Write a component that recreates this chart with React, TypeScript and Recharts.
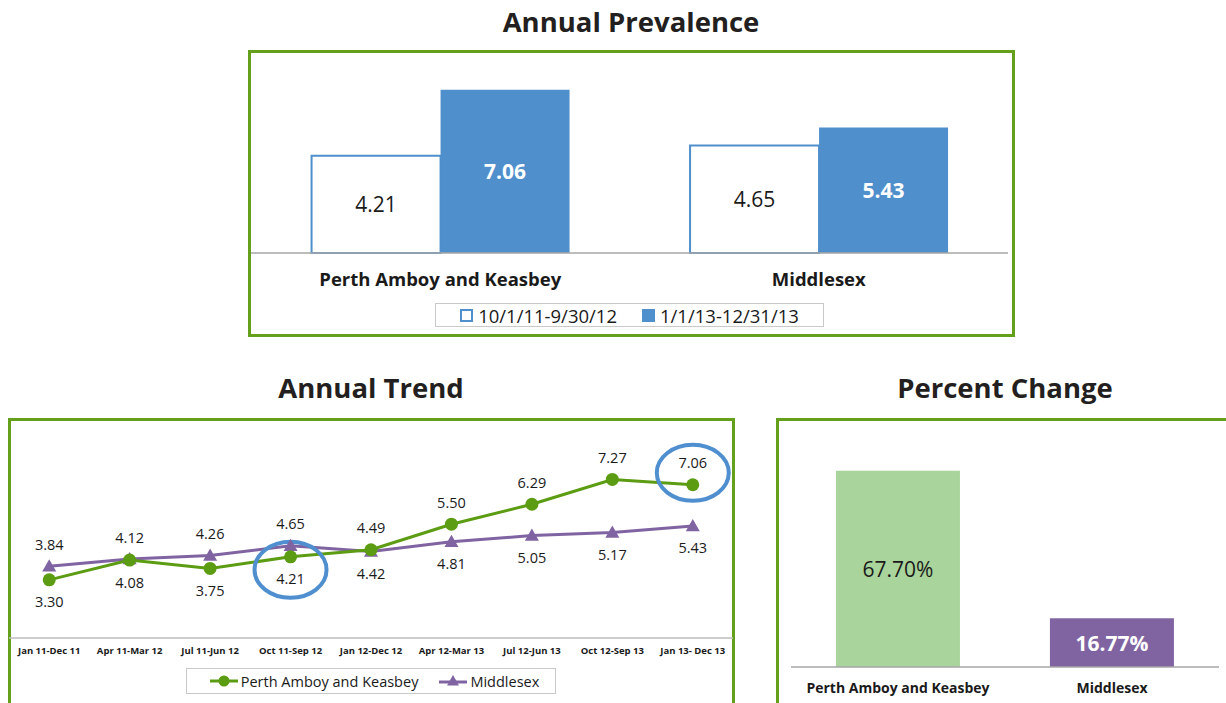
import React from 'react';
import { BarChart, Bar, LineChart, Line, XAxis, YAxis, LabelList, Legend, Cell, ReferenceDot } from 'recharts';

const FONT = '"Open Sans", "Liberation Sans", sans-serif';
const BORDER_GREEN = '#64a01c';
const BLUE = '#4f8fcc';
const GREEN = '#5c9c12';
const PURPLE = '#8064a2';
const LIGHT_GREEN = '#a9d49b';
const TEXT = '#1a1a1a';

// --- data ---
const regions = ['Perth Amboy and Keasbey', 'Middlesex'];
const prevalencePeriods = ['10/1/11-9/30/12', '1/1/13-12/31/13'];
const prevalenceEarly = [4.21, 4.65];
const prevalenceLate = [7.06, 5.43];

const trendPeriods = [
  'Jan 11-Dec 11', 'Apr 11-Mar 12', 'Jul 11-Jun 12', 'Oct 11-Sep 12', 'Jan 12-Dec 12',
  'Apr 12-Mar 13', 'Jul 12-Jun 13', 'Oct 12-Sep 13', 'Jan 13- Dec 13',
];
const trendPerth = [3.3, 4.08, 3.75, 4.21, 4.49, 5.5, 6.29, 7.27, 7.06];
const trendMiddlesex = [3.84, 4.12, 4.26, 4.65, 4.42, 4.81, 5.05, 5.17, 5.43];
const circledPeriods = ['Oct 11-Sep 12', 'Jan 13- Dec 13'];

const percentChange = [67.7, 16.77];

// tables for recharts
const prevalenceData = regions.map((region, i) => ({ region, early: prevalenceEarly[i], late: prevalenceLate[i] }));
const trendData = trendPeriods.map((period, i) => ({ period, perth: trendPerth[i], middlesex: trendMiddlesex[i] }));
const changeData = regions.map((region, i) => ({ region, change: percentChange[i] }));

// perth label goes above when its line is the higher one, middlesex label takes the other side
const perthOnTop = (i: number) => trendPerth[i] >= trendMiddlesex[i];

const Title = ({ text, cx, cy }: { text: string; cx: number; cy: number }) => (
  <div
    style={{
      position: 'absolute', left: cx - 200, top: cy - 20, width: 400, height: 40, lineHeight: '40px',
      textAlign: 'center', fontWeight: 700, fontSize: 27.5, color: '#231f20', fontFamily: FONT,
    }}
  >
    {text}
  </div>
);

const Frame = ({ left, top, width, height }: { left: number; top: number; width: number; height: number }) => (
  <div
    style={{
      position: 'absolute', left, top, width, height, boxSizing: 'border-box',
      border: `3px solid ${BORDER_GREEN}`,
    }}
  />
);

const prevalenceLegend = () => (
  <div style={{ display: 'flex', justifyContent: 'center' }}>
    <div
      style={{
        display: 'flex', alignItems: 'center', height: 24, boxSizing: 'border-box', border: '1px solid #c9c9c9',
        padding: '0 24px 0 24px', gap: 25, fontSize: 18.5, fontFamily: FONT, color: TEXT,
      }}
    >
      {prevalencePeriods.map((p, i) => (
        <span key={p} style={{ display: 'flex', alignItems: 'center', gap: 5 }}>
          <svg width={13} height={13}>
            <rect x={1} y={1} width={11} height={11} fill={i === 0 ? '#fff' : BLUE} stroke={BLUE} strokeWidth={2} />
          </svg>
          {p}
        </span>
      ))}
    </div>
  </div>
);

const Triangle = ({ cx, cy, size = 7 }: { cx: number; cy: number; size?: number }) => (
  <polygon
    points={`${cx},${cy - size} ${cx - size},${cy + size * 0.75} ${cx + size},${cy + size * 0.75}`}
    fill={PURPLE}
  />
);

const trendLegend = () => (
  <div style={{ display: 'flex', justifyContent: 'center' }}>
    <div
      style={{
        display: 'flex', alignItems: 'center', height: 26, boxSizing: 'border-box', border: '1px solid #c9c9c9',
        padding: '0 16px 0 22px', gap: 20, fontSize: 14.5, fontFamily: FONT, color: TEXT,
      }}
    >
      <span style={{ display: 'flex', alignItems: 'center', gap: 2 }}>
        <svg width={30} height={14}>
          <line x1={1} y1={7} x2={29} y2={7} stroke={GREEN} strokeWidth={3} />
          <circle cx={15} cy={7} r={5.5} fill={GREEN} />
        </svg>
        Perth Amboy and Keasbey
      </span>
      <span style={{ display: 'flex', alignItems: 'center', gap: 2 }}>
        <svg width={30} height={14}>
          <line x1={1} y1={8} x2={29} y2={8} stroke={PURPLE} strokeWidth={3} />
          <Triangle cx={15} cy={7} size={6} />
        </svg>
        Middlesex
      </span>
    </div>
  </div>
);

const trendLabel = (series: 'perth' | 'middlesex') => (props: any) => {
  const { x, y, value, index } = props;
  const above = series === 'perth' ? perthOnTop(index) : !perthOnTop(index);
  return (
    <text
      x={x} y={above ? y - 22 : y + 22} textAnchor="middle" dominantBaseline="central"
      fontSize={14.5} fill={TEXT} fontFamily={FONT}
    >
      {Number(value).toFixed(2)}
    </text>
  );
};

const prevalenceLabel = (light: boolean) => (props: any) => {
  const { x, y, width, height, value } = props;
  return (
    <text
      x={x + width / 2} y={y + height / 2} textAnchor="middle" dominantBaseline="central"
      fontSize={21} fontWeight={light ? 400 : 700} fill={light ? TEXT : '#fff'} fontFamily={FONT}
    >
      {Number(value).toFixed(2)}
    </text>
  );
};

const changeLabel = (props: any) => {
  const { x, y, width, height, value, index } = props;
  const first = index === 0;
  return (
    <text
      x={x + width / 2} y={y + height / 2} textAnchor="middle" dominantBaseline="central"
      fontSize={21} fontWeight={first ? 400 : 700} fill={first ? TEXT : '#fff'} fontFamily={FONT}
    >
      {Number(value).toFixed(2)}%
    </text>
  );
};

export default function App() {
  return (
    <div
      style={{
        position: 'absolute', left: 0, top: 0, width: 1226, height: 703, overflow: 'hidden',
        background: '#fff', fontFamily: FONT,
      }}
    >
      <Title text="Annual Prevalence" cx={631} cy={22} />
      <Title text="Annual Trend" cx={371} cy={388} />
      <Title text="Percent Change" cx={1005} cy={388} />

      <Frame left={248} top={50} width={767} height={287} />
      <Frame left={8} top={418} width={727} height={300} />
      <Frame left={776} top={418} width={470} height={300} />

      {/* Annual Prevalence */}
      <div style={{ position: 'absolute', left: 251, top: 53 }}>
        <BarChart
          width={761} height={281} data={prevalenceData}
          margin={{ top: 15, right: 4, bottom: 7, left: 0 }}
          barGap={0} barCategoryGap="16%"
        >
          <XAxis
            dataKey="region" height={50} tickLine={false} tickMargin={14}
            axisLine={{ stroke: '#a6a6a6', strokeWidth: 1.5 }}
            tick={{ fill: TEXT, fontSize: 18.5, fontWeight: 700, fontFamily: FONT }}
          />
          <YAxis hide domain={[0, 8]} />
          <Legend verticalAlign="bottom" content={prevalenceLegend} />
          <Bar dataKey="early" name={prevalencePeriods[0]} fill="#fff" stroke={BLUE} strokeWidth={2} isAnimationActive={false}>
            <LabelList dataKey="early" content={prevalenceLabel(true)} />
          </Bar>
          <Bar dataKey="late" name={prevalencePeriods[1]} fill={BLUE} isAnimationActive={false}>
            <LabelList dataKey="late" content={prevalenceLabel(false)} />
          </Bar>
        </BarChart>
      </div>

      {/* Annual Trend */}
      <div style={{ position: 'absolute', left: 8, top: 418 }}>
        <LineChart
          width={727} height={285} data={trendData}
          margin={{ top: 43, right: 2, bottom: 9, left: 1 }}
        >
          <XAxis
            dataKey="period" scale="band" height={30} tickLine={false} tickMargin={3} interval={0}
            axisLine={{ stroke: '#bdbdbd', strokeWidth: 1.5 }}
            tick={{ fill: TEXT, fontSize: 9.5, fontWeight: 700, fontFamily: FONT }}
          />
          <YAxis hide domain={[1, 8]} />
          <Legend verticalAlign="bottom" content={trendLegend} />
          <Line
            dataKey="middlesex" name="Middlesex" stroke={PURPLE} strokeWidth={3}
            dot={(p: any) => <Triangle key={`m-${p.index}`} cx={p.cx} cy={p.cy} />}
            label={trendLabel('middlesex')} isAnimationActive={false}
          />
          <Line
            dataKey="perth" name="Perth Amboy and Keasbey" stroke={GREEN} strokeWidth={3}
            dot={(p: any) => <circle key={`p-${p.index}`} cx={p.cx} cy={p.cy} r={6.5} fill={GREEN} />}
            label={trendLabel('perth')} isAnimationActive={false}
          />
          {circledPeriods.map((period) => {
            const i = trendPeriods.indexOf(period);
            const shift = perthOnTop(i) ? -12 : 13;
            return (
              <ReferenceDot
                key={period} x={period} y={trendPerth[i]} ifOverflow="visible"
                shape={(p: any) => (
                  <ellipse cx={p.cx} cy={p.cy + shift} rx={36} ry={28} fill="none" stroke="#4f8fcf" strokeWidth={4} />
                )}
              />
            );
          })}
        </LineChart>
      </div>

      {/* Percent Change */}
      <div style={{ position: 'absolute', left: 779, top: 421 }}>
        <BarChart
          width={447} height={282} data={changeData}
          margin={{ top: 14, right: 7, bottom: 0, left: 12 }}
          barCategoryGap="21%"
        >
          <XAxis
            dataKey="region" height={36} tickLine={false} tickMargin={10}
            axisLine={{ stroke: '#a6a6a6', strokeWidth: 1.5 }}
            tick={{ fill: TEXT, fontSize: 14, fontWeight: 700, fontFamily: FONT }}
          />
          <YAxis hide domain={[0, 80]} />
          <Bar dataKey="change" isAnimationActive={false}>
            {changeData.map((d, i) => (
              <Cell key={d.region} fill={i === 0 ? LIGHT_GREEN : PURPLE} />
            ))}
            <LabelList dataKey="change" content={changeLabel} />
          </Bar>
        </BarChart>
      </div>
    </div>
  );
}
